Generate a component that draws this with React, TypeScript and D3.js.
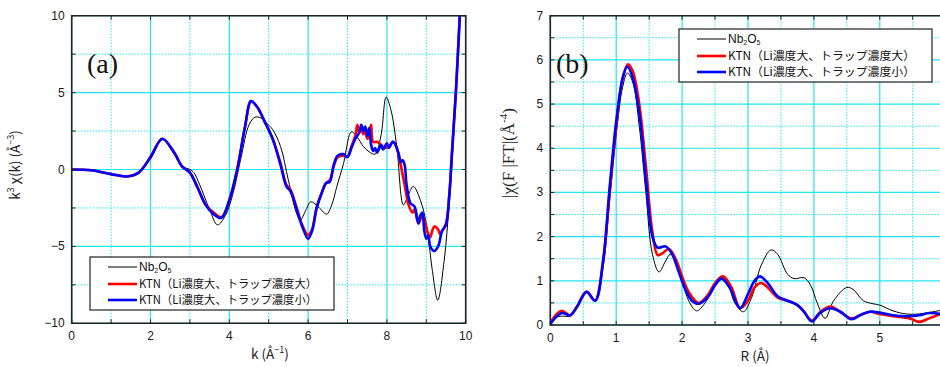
import * as d3 from "d3"

// (a) k^3 chi(k)
const nbK: [number, number][] = [
  [0, 0], [0.5, -0.05], [1.0, -0.3], [1.4, -0.45], [1.7, -0.2], [2.0, 0.7], [2.3, 1.95], [2.6, 1.0],
  [2.8, 0.2], [3.0, 0.0], [3.1, -0.2], [3.25, -1.0], [3.5, -2.6], [3.7, -3.6], [3.9, -3.0], [4.1, -1.5],
  [4.3, 0.8], [4.5, 2.9], [4.65, 3.4], [4.8, 3.35], [4.95, 3.0], [5.1, 2.6], [5.3, 1.5], [5.5, -0.7],
  [5.7, -2.8], [5.8, -3.3], [5.95, -2.6], [6.07, -2.1], [6.25, -2.4], [6.47, -2.9], [6.6, -2.3],
  [6.73, -1.1], [6.9, 0.4], [7.1, 2.45], [7.25, 2.1], [7.4, 1.5], [7.55, 1.15], [7.7, 1.0],
  [7.85, 2.2], [7.98, 4.7], [8.1, 3.9], [8.25, 1.5], [8.42, -2.3], [8.55, -1.6], [8.67, -1.1],
  [8.85, -2.0], [9.0, -3.5], [9.15, -6.5], [9.29, -8.5], [9.45, -6.0], [9.6, -1.5], [9.7, 2.5],
  [9.8, 7.0], [9.87, 10.5], [9.92, 13]
]
const redK: [number, number][] = [
  [0, 0], [0.5, -0.05], [1.0, -0.3], [1.4, -0.45], [1.7, -0.2], [2.0, 0.8], [2.3, 2.0], [2.6, 1.1],
  [2.8, 0.2], [3.0, -0.2], [3.2, -1.2], [3.4, -2.3], [3.6, -2.8], [3.8, -3.1], [4.0, -2.0], [4.2, 0.0],
  [4.4, 2.8], [4.55, 4.4], [4.7, 4.1], [4.9, 3.1], [5.1, 2.0], [5.3, 0.4], [5.45, -1.0], [5.55, -1.3],
  [5.7, -2.4], [5.85, -3.6], [6.0, -4.25], [6.1, -3.9], [6.22, -2.4], [6.35, -1.5], [6.45, -0.9],
  [6.55, -0.7], [6.65, 0.2], [6.75, 0.8], [6.9, 0.9], [7.0, 0.85], [7.1, 1.5], [7.2, 2.2], [7.25, 2.9],
  [7.3, 2.4], [7.35, 2.7], [7.4, 2.3], [7.45, 2.5], [7.5, 2.0], [7.55, 2.2], [7.6, 2.9], [7.65, 1.8],
  [7.75, 1.8], [7.85, 1.6], [7.95, 1.4], [8.05, 1.5], [8.15, 1.8], [8.25, 1.4], [8.35, 0.3],
  [8.45, -1.0], [8.55, -2.3], [8.65, -2.8], [8.7, -2.6], [8.8, -3.5], [8.9, -3.0], [9.0, -3.8],
  [9.05, -4.2], [9.1, -4.4], [9.15, -4.0], [9.2, -3.7], [9.3, -3.9], [9.35, -4.2], [9.4, -4.0],
  [9.5, -3.5], [9.58, -1.8], [9.65, 1.0], [9.75, 5.0], [9.85, 10], [9.9, 12.5]
]
const blueK: [number, number][] = [
  [0, 0], [0.5, -0.05], [1.0, -0.3], [1.4, -0.45], [1.7, -0.2], [2.0, 0.8], [2.3, 2.0], [2.6, 1.1],
  [2.8, 0.2], [3.0, -0.2], [3.2, -1.2], [3.4, -2.3], [3.6, -2.9], [3.8, -3.15], [4.0, -2.0], [4.2, 0.0],
  [4.4, 2.8], [4.55, 4.45], [4.7, 4.1], [4.9, 3.1], [5.1, 2.0], [5.3, 0.3], [5.45, -1.1], [5.55, -1.4],
  [5.7, -2.5], [5.85, -3.7], [6.0, -4.5], [6.1, -4.0], [6.22, -2.5], [6.35, -1.5], [6.45, -0.9],
  [6.55, -0.8], [6.65, 0.3], [6.75, 0.9], [6.9, 1.0], [7.0, 0.8], [7.1, 1.4], [7.2, 2.0], [7.3, 2.4],
  [7.35, 2.9], [7.4, 2.5], [7.45, 2.8], [7.5, 2.2], [7.55, 2.7], [7.6, 1.6], [7.65, 1.2], [7.7, 1.4],
  [7.75, 1.1], [7.85, 1.6], [7.9, 1.3], [8.0, 1.7], [8.05, 1.4], [8.15, 1.8], [8.2, 1.7], [8.3, 1.0],
  [8.35, 0.5], [8.4, 0.6], [8.45, 0.3], [8.5, -1.0], [8.6, -2.2], [8.7, -2.4], [8.8, -3.5],
  [8.85, -3.0], [8.9, -2.8], [8.95, -4.0], [9.0, -4.5], [9.05, -4.3], [9.1, -5.0], [9.2, -5.3],
  [9.3, -5.0], [9.4, -4.0], [9.5, -3.6], [9.58, -1.8], [9.65, 1.0], [9.75, 5.0], [9.85, 10], [9.9, 12.5]
]

// (b) |FT|
const nbR: [number, number][] = [
  [0, 0.05], [0.1, 0.18], [0.2, 0.2], [0.3, 0.2], [0.4, 0.4], [0.55, 0.75], [0.68, 0.55], [0.8, 1.3],
  [0.9, 2.8], [1.0, 4.3], [1.1, 5.4], [1.17, 5.7], [1.25, 5.5], [1.35, 4.5], [1.45, 3.0], [1.55, 1.6],
  [1.65, 1.2], [1.75, 1.45], [1.82, 1.6], [1.9, 1.5], [2.0, 1.0], [2.1, 0.55], [2.22, 0.32],
  [2.35, 0.5], [2.5, 0.9], [2.6, 1.05], [2.7, 0.9], [2.8, 0.5], [2.93, 0.3], [3.05, 0.6], [3.2, 1.35],
  [3.35, 1.7], [3.45, 1.6], [3.6, 1.15], [3.7, 1.05], [3.85, 1.07], [3.95, 0.9], [4.05, 0.5],
  [4.17, 0.15], [4.3, 0.55], [4.5, 0.85], [4.6, 0.8], [4.75, 0.55], [4.9, 0.48], [5.0, 0.45],
  [5.2, 0.32], [5.4, 0.25], [5.6, 0.25], [5.92, 0.33]
]
const redR: [number, number][] = [
  [0, 0.05], [0.1, 0.25], [0.18, 0.32], [0.3, 0.22], [0.4, 0.4], [0.55, 0.75], [0.68, 0.55], [0.8, 1.4],
  [0.9, 3.0], [1.0, 4.5], [1.1, 5.6], [1.18, 5.9], [1.25, 5.75], [1.35, 5.0], [1.45, 3.6], [1.55, 2.1],
  [1.63, 1.58], [1.7, 1.62], [1.8, 1.72], [1.9, 1.5], [2.0, 1.1], [2.1, 0.75], [2.25, 0.5], [2.4, 0.7],
  [2.5, 0.95], [2.62, 1.1], [2.75, 0.85], [2.88, 0.38], [3.0, 0.55], [3.1, 0.85], [3.2, 0.95],
  [3.3, 0.85], [3.45, 0.62], [3.6, 0.55], [3.75, 0.45], [3.85, 0.3], [3.97, 0.1], [4.1, 0.3],
  [4.25, 0.42], [4.4, 0.3], [4.57, 0.15], [4.7, 0.22], [4.85, 0.3], [5.0, 0.25], [5.2, 0.2],
  [5.45, 0.15], [5.6, 0.07], [5.75, 0.15], [5.92, 0.25]
]
const blueR: [number, number][] = [
  [0, 0.02], [0.1, 0.2], [0.18, 0.27], [0.3, 0.22], [0.4, 0.4], [0.55, 0.75], [0.68, 0.55], [0.8, 1.45],
  [0.9, 3.1], [1.0, 4.6], [1.1, 5.6], [1.17, 5.85], [1.25, 5.6], [1.35, 4.8], [1.45, 3.3], [1.55, 2.0],
  [1.63, 1.75], [1.75, 1.78], [1.85, 1.6], [1.95, 1.2], [2.05, 0.8], [2.15, 0.55], [2.25, 0.48],
  [2.4, 0.65], [2.5, 0.9], [2.6, 1.05], [2.72, 0.85], [2.88, 0.38], [3.0, 0.7], [3.1, 1.0], [3.18, 1.1],
  [3.3, 0.95], [3.45, 0.65], [3.6, 0.55], [3.75, 0.45], [3.85, 0.3], [3.97, 0.08], [4.1, 0.28],
  [4.25, 0.38], [4.4, 0.3], [4.57, 0.13], [4.7, 0.22], [4.85, 0.3], [5.0, 0.28], [5.2, 0.22],
  [5.45, 0.2], [5.6, 0.22], [5.75, 0.27], [5.92, 0.25]
]

const kTicks = [0, 2, 4, 6, 8, 10]
const chiTicks = [-10, -5, 0, 5, 10]
const rTicks = [0, 1, 2, 3, 4, 5]
const ftTicks = [0, 1, 2, 3, 4, 5, 6, 7]
const legendLabels = ["Nb2O5", "KTN（Li濃度大、トラップ濃度大）", "KTN（Li濃度大、トラップ濃度小）"]
const seriesColors = ["#000", "#ff0000", "#0000ff"]
const seriesWidths = [1, 2.6, 2.6]

const CYAN = "#22e6f0"
const TICKFONT = "'Liberation Sans', Arial, sans-serif"
const JP = "'Noto Sans CJK JP', 'Liberation Sans', sans-serif"

interface PanelProps {
  id: string
  x: d3.ScaleLinear<number, number>
  y: d3.ScaleLinear<number, number>
  xMajor: number[]
  yMajor: number[]
  xStep: number
  yStep: number
  series: [number, number][][]
  rightBorder: boolean
}

function Panel({ id, x, y, xMajor, yMajor, xStep, yStep, series, rightBorder }: PanelProps) {
  const [x0, x1] = x.range()
  const [y1, y0] = y.range()
  const [dx0, dx1] = x.domain()
  const [dy0, dy1] = y.domain()
  const xMinor = d3.range(dx0 + xStep / 2, dx1 + 1e-6, xStep).filter((v) => !xMajor.includes(v))
  const yMinor = d3.range(dy0 + yStep / 2, dy1 + 1e-6, yStep).filter((v) => !yMajor.includes(v))
  const allX = d3.range(dx0, dx1 + 1e-6, xStep / 2)
  const allY = d3.range(dy0, dy1 + 1e-6, yStep / 2)
  const line = d3
    .line<[number, number]>()
    .x((d) => x(d[0]))
    .y((d) => y(d[1]))
    .curve(d3.curveCatmullRom.alpha(0.5))
  const tl = 4
  return (
    <g>
      <defs>
        <clipPath id={id}>
          <rect x={x0} y={y0} width={x1 - x0} height={y1 - y0} />
        </clipPath>
      </defs>
      {xMinor.map((v) => (
        <line key={"xm" + v} x1={x(v)} x2={x(v)} y1={y0} y2={y1} stroke={CYAN} strokeDasharray="1.5,1.5" />
      ))}
      {yMinor.map((v) => (
        <line key={"ym" + v} x1={x0} x2={x1} y1={y(v)} y2={y(v)} stroke={CYAN} strokeDasharray="1.5,1.5" />
      ))}
      {xMajor.map((v) => (
        <line key={"xM" + v} x1={x(v)} x2={x(v)} y1={y0} y2={y1} stroke={CYAN} strokeWidth={1.2} />
      ))}
      {yMajor.map((v) => (
        <line key={"yM" + v} x1={x0} x2={x1} y1={y(v)} y2={y(v)} stroke={CYAN} strokeWidth={1.2} />
      ))}
      <g clipPath={`url(#${id})`}>
        {series.map((s, i) => (
          <path key={i} d={line(s) || ""} fill="none" stroke={seriesColors[i]} strokeWidth={seriesWidths[i]} strokeLinejoin="round" />
        ))}
      </g>
      {allX.map((v) => (
        <g key={"tx" + v} stroke="#222">
          <line x1={x(v)} x2={x(v)} y1={y1} y2={y1 - tl} />
          <line x1={x(v)} x2={x(v)} y1={y0} y2={y0 + tl} />
        </g>
      ))}
      {allY.map((v) => (
        <g key={"ty" + v} stroke="#222">
          <line x1={x0} x2={x0 + tl} y1={y(v)} y2={y(v)} />
          {rightBorder && <line x1={x1} x2={x1 - tl} y1={y(v)} y2={y(v)} />}
        </g>
      ))}
      <path
        d={rightBorder ? `M${x0},${y0}H${x1}V${y1}H${x0}Z` : `M${x1},${y0}H${x0}V${y1}H${x1}`}
        fill="none"
        stroke="#222"
        strokeWidth={1.6}
      />
      {xMajor.map((v) => (
        <text key={"lx" + v} x={x(v)} y={y1 + 17} textAnchor="middle" fontFamily={TICKFONT} fontSize={12} fill="#1a1a1a">
          {v}
        </text>
      ))}
      {yMajor.map((v) => (
        <text key={"ly" + v} x={x0 - 7} y={y(v) + 4} textAnchor="end" fontFamily={TICKFONT} fontSize={12} fill="#1a1a1a">
          {v < 0 ? "−" + Math.abs(v) : v}
        </text>
      ))}
    </g>
  )
}

function Legend({ x, y, w, h }: { x: number; y: number; w: number; h: number }) {
  const rows = [10, 27, 43]
  return (
    <g>
      <rect x={x} y={y} width={w} height={h} fill="#fff" stroke="#222" strokeWidth={1.2} />
      {legendLabels.map((lab, i) => (
        <g key={i}>
          <line x1={x + 18} x2={x + 47} y1={y + rows[i]} y2={y + rows[i]} stroke={seriesColors[i]} strokeWidth={i === 0 ? 1 : 2.6} />
          {i === 0 ? (
            <text x={x + 49} y={y + rows[i] + 4} fontFamily={TICKFONT} fontSize={12} fill="#111">
              Nb
              <tspan fontSize={7} dy={2}>2</tspan>
              <tspan dy={-2}>O</tspan>
              <tspan fontSize={7} dy={2}>5</tspan>
            </text>
          ) : (
            <text x={x + 49} y={y + rows[i] + 4} fontFamily={JP} fontSize={11.5} fill="#111" textLength={w - 66} lengthAdjust="spacingAndGlyphs">
              {lab}
            </text>
          )}
        </g>
      ))}
    </g>
  )
}

export default function App() {
  const xa = d3.scaleLinear().domain([0, 10]).range([71.7, 465.7])
  const ya = d3.scaleLinear().domain([-10, 10]).range([323.3, 15.7])
  const xb = d3.scaleLinear().domain([0, 5.92]).range([550.3, 940.4])
  const yb = d3.scaleLinear().domain([0, 7]).range([325, 15.7])
  return (
    <svg width={940} height={367} style={{ position: "absolute", left: 0, top: 0, background: "#fff" }}>
      <rect width={940} height={367} fill="#fff" />
      <Panel id="ca" x={xa} y={ya} xMajor={kTicks} yMajor={chiTicks} xStep={2} yStep={5} series={[nbK, redK, blueK]} rightBorder={true} />
      <Panel id="cb" x={xb} y={yb} xMajor={rTicks} yMajor={ftTicks} xStep={1} yStep={1} series={[nbR, redR, blueR]} rightBorder={false} />
      <Legend x={90} y={257} w={244} h={53} />
      <Legend x={679} y={29} w={253} h={53} />
      <text x={87} y={73} fontFamily="'Liberation Serif', 'DejaVu Serif', serif" fontSize={28} fill="#111">(a)</text>
      <text x={556} y={73} fontFamily="'Liberation Serif', 'DejaVu Serif', serif" fontSize={28} fill="#111">(b)</text>
      <text transform="translate(20,165) rotate(-90)" textAnchor="middle" fontFamily={JP} fontSize={13.5} fill="#222">
        k<tspan fontSize={9} dy={-6}>3</tspan>
        <tspan dy={6}> χ(k) (Å</tspan>
        <tspan fontSize={9} dy={-6}>−3</tspan>
        <tspan dy={6}>)</tspan>
      </text>
      <text x={270} y={359} textAnchor="middle" fontFamily={JP} fontSize={13.5} fill="#222">
        k (Å<tspan fontSize={9} dy={-6}>−1</tspan>
        <tspan dy={6}>)</tspan>
      </text>
      <text transform="translate(514,153) rotate(-90)" textAnchor="middle" fontFamily="'Liberation Serif', serif" fontSize={17} fill="#222">
        |χ(F  |FT|(Å<tspan fontSize={11} dy={-7}>-4</tspan>
        <tspan dy={7}>)</tspan>
      </text>
      <text x={755} y={361} textAnchor="middle" fontFamily={JP} fontSize={13.5} fill="#222">R (Å)</text>
    </svg>
  )
}
